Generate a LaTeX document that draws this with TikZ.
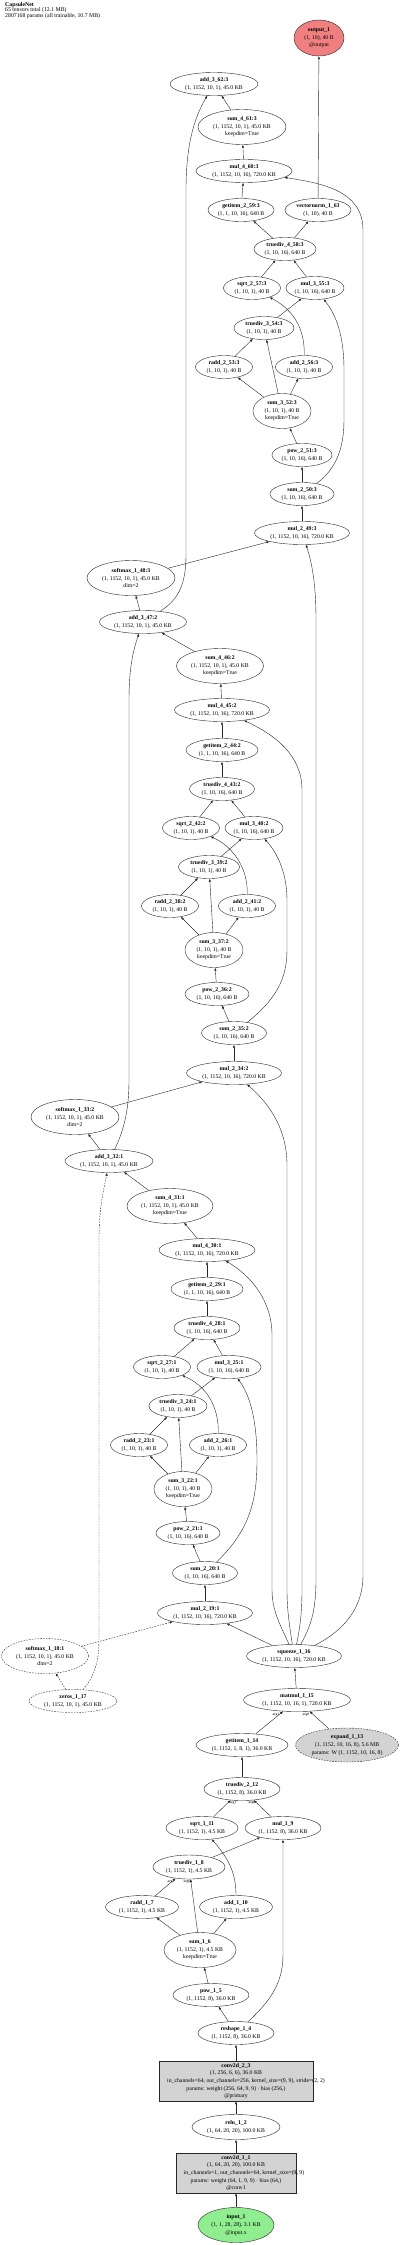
\documentclass[tikz,border=0pt]{standalone}
\usepackage{fontspec}
\setmainfont{Liberation Serif}
\usetikzlibrary{shapes.geometric,arrows.meta}
\definecolor{outc}{HTML}{F08080}
\definecolor{inc}{HTML}{90EE90}
\definecolor{parc}{HTML}{D3D3D3}
\newcommand\opl[2]{\textbf{#1}\\#2}
\begin{document}
\begin{tikzpicture}[x=1pt,y=-1pt,
 base/.style={font=\fontsize{5.75}{7.6}\selectfont, align=center, inner sep=0pt, draw=black!85, line width=0.4pt},
 op/.style={base, ellipse},
 boxn/.style={base, rectangle, fill=parc},
 sz/.style 2 args={minimum width=#1pt, minimum height=#2pt},
 dsh/.style={dash pattern=on 1.6pt off 1.2pt},
 e/.style={draw=black!85, line width=0.4pt, -{Latex[length=3pt,width=2.4pt]}},
 de/.style={e, dsh},
 lab/.style={font=\fontsize{3.8}{4}\selectfont, inner sep=0pt}]
\useasboundingbox (0,0) rectangle (400,2245);

\node[font=\fontsize{5.8}{5.4}\selectfont, align=left, anchor=north west, inner sep=0pt] (title) at (5,2)
 {\textbf{CapsuleNet}\\65 tensors total (12.1 MB)\\2807168 params (all trainable, 10.7 MB)};

% ---------- iteration 3 ----------
\node[op,sz={50}{36},fill=outc] (out) at (319,38) {\opl{output\_1}{(1, 10), 40 B\\@output}};
\node[op,sz={88}{23}] (a362) at (214,84) {\opl{add\_3\_62:3}{(1, 1152, 10, 1), 45.0 KB}};
\node[op,sz={88}{35}] (s461) at (242,127) {\opl{sum\_4\_61:3}{(1, 1152, 10, 1), 45.0 KB\\keepdim=True}};
\node[op,sz={96}{23}] (m460) at (244,171) {\opl{mul\_4\_60:3}{(1, 1152, 10, 16), 720.0 KB}};
\node[op,sz={66}{23}] (g259) at (241,210) {\opl{getitem\_2\_59:3}{(1, 1, 10, 16), 640 B}};
\node[op,sz={66}{23}] (vn) at (318,210) {\opl{vectornorm\_1\_63}{(1, 10), 40 B}};
\node[op,sz={62}{23}] (t458) at (285,249) {\opl{truediv\_4\_58:3}{(1, 10, 16), 640 B}};
\node[op,sz={57}{23}] (s257) at (252,288) {\opl{sqrt\_2\_57:3}{(1, 10, 1), 40 B}};
\node[op,sz={58}{23}] (m355) at (315,288) {\opl{mul\_3\_55:3}{(1, 10, 16), 640 B}};
\node[op,sz={60}{23}] (t354) at (264,328) {\opl{truediv\_3\_54:3}{(1, 10, 1), 40 B}};
\node[op,sz={57}{23}] (r253) at (224,367) {\opl{radd\_2\_53:3}{(1, 10, 1), 40 B}};
\node[op,sz={57}{23}] (a256) at (304,367) {\opl{add\_2\_56:3}{(1, 10, 1), 40 B}};
\node[op,sz={58}{35}] (s352) at (282,411) {\opl{sum\_3\_52:3}{(1, 10, 1), 40 B\\keepdim=True}};
\node[op,sz={60}{23}] (p251) at (302,455) {\opl{pow\_2\_51:3}{(1, 10, 16), 640 B}};
\node[op,sz={64}{23}] (s250) at (302,494) {\opl{sum\_2\_50:3}{(1, 10, 16), 640 B}};
\node[op,sz={95}{23}] (m249) at (302,533) {\opl{mul\_2\_49:3}{(1, 1152, 10, 16), 720.0 KB}};
\node[op,sz={88}{35}] (sm348) at (131,578) {\opl{softmax\_1\_48:3}{(1, 1152, 10, 1), 45.0 KB\\dim=2}};

% ---------- iteration 2 ----------
\node[op,sz={87}{23}] (a347) at (143,622) {\opl{add\_3\_47:2}{(1, 1152, 10, 1), 45.0 KB}};
\node[op,sz={87}{35}] (s446) at (220,666) {\opl{sum\_4\_46:2}{(1, 1152, 10, 1), 45.0 KB\\keepdim=True}};
\node[op,sz={95}{23}] (m445) at (222,710) {\opl{mul\_4\_45:2}{(1, 1152, 10, 16), 720.0 KB}};
\node[op,sz={72}{23}] (g244) at (222,750) {\opl{getitem\_2\_44:2}{(1, 1, 10, 16), 640 B}};
\node[op,sz={65}{23}] (t443) at (222,789) {\opl{truediv\_4\_43:2}{(1, 10, 16), 640 B}};
\node[op,sz={57}{23}] (s242) at (191,828) {\opl{sqrt\_2\_42:2}{(1, 10, 1), 40 B}};
\node[op,sz={58}{23}] (m340) at (254,828) {\opl{mul\_3\_40:2}{(1, 10, 16), 640 B}};
\node[op,sz={61}{23}] (t339) at (209,867) {\opl{truediv\_3\_39:2}{(1, 10, 1), 40 B}};
\node[op,sz={57}{23}] (r238) at (170,906) {\opl{radd\_2\_38:2}{(1, 10, 1), 40 B}};
\node[op,sz={57}{23}] (a241) at (247,906) {\opl{add\_2\_41:2}{(1, 10, 1), 40 B}};
\node[op,sz={58}{35}] (s337) at (214,950) {\opl{sum\_3\_37:2}{(1, 10, 1), 40 B\\keepdim=True}};
\node[op,sz={64}{23}] (p236) at (217,994) {\opl{pow\_2\_36:2}{(1, 10, 16), 640 B}};
\node[op,sz={65}{23}] (s235) at (234,1033) {\opl{sum\_2\_35:2}{(1, 10, 16), 640 B}};
\node[op,sz={95}{23}] (m234) at (234,1073) {\opl{mul\_2\_34:2}{(1, 1152, 10, 16), 720.0 KB}};
\node[op,sz={88}{35}] (sm333) at (75,1117) {\opl{softmax\_1\_33:2}{(1, 1152, 10, 1), 45.0 KB\\dim=2}};

% ---------- iteration 1 ----------
\node[op,sz={88}{23}] (a332) at (109,1161) {\opl{add\_3\_32:1}{(1, 1152, 10, 1), 45.0 KB}};
\node[op,sz={86}{35}] (s431) at (170,1206) {\opl{sum\_4\_31:1}{(1, 1152, 10, 1), 45.0 KB\\keepdim=True}};
\node[op,sz={96}{23}] (m430) at (207,1250) {\opl{mul\_4\_30:1}{(1, 1152, 10, 16), 720.0 KB}};
\node[op,sz={72}{23}] (g229) at (207,1289) {\opl{getitem\_2\_29:1}{(1, 1, 10, 16), 640 B}};
\node[op,sz={66}{23}] (t428) at (207,1328) {\opl{truediv\_4\_28:1}{(1, 10, 16), 640 B}};
\node[op,sz={57}{23}] (s227) at (162,1367) {\opl{sqrt\_2\_27:1}{(1, 10, 1), 40 B}};
\node[op,sz={64}{23}] (m325) at (229,1367) {\opl{mul\_3\_25:1}{(1, 10, 16), 640 B}};
\node[op,sz={58}{23}] (t324) at (178,1406) {\opl{truediv\_3\_24:1}{(1, 10, 1), 40 B}};
\node[op,sz={57}{23}] (r223) at (139,1445) {\opl{radd\_2\_23:1}{(1, 10, 1), 40 B}};
\node[op,sz={57}{23}] (a226) at (218,1445) {\opl{add\_2\_26:1}{(1, 10, 1), 40 B}};
\node[op,sz={58}{35}] (s322) at (183,1489) {\opl{sum\_3\_22:1}{(1, 10, 1), 40 B\\keepdim=True}};
\node[op,sz={64}{23}] (p221) at (188,1533) {\opl{pow\_2\_21:1}{(1, 10, 16), 640 B}};
\node[op,sz={65}{23}] (s220) at (205,1573) {\opl{sum\_2\_20:1}{(1, 10, 16), 640 B}};
\node[op,sz={95}{23}] (m219) at (205,1613) {\opl{mul\_2\_19:1}{(1, 1152, 10, 16), 720.0 KB}};
\node[op,sz={87}{35},dsh] (sm118) at (45,1656) {\opl{softmax\_1\_18:1}{(1, 1152, 10, 1), 45.0 KB\\dim=2}};

% ---------- primary / routing input ----------
\node[op,sz={95}{23}] (sq) at (294,1656) {\opl{squeeze\_1\_16}{(1, 1152, 10, 16), 720.0 KB}};
\node[op,sz={88}{23},dsh] (z117) at (73,1701) {\opl{zeros\_1\_17}{(1, 1152, 10, 1), 45.0 KB}};
\node[op,sz={107}{23}] (mm115) at (297,1700) {\opl{matmul\_1\_15}{(1, 1152, 10, 16, 1), 720.0 KB}};
\node[op,sz={92}{23}] (g114) at (242,1745) {\opl{getitem\_1\_14}{(1, 1152, 1, 8, 1), 36.0 KB}};
\node[op,sz={103}{34},dsh,fill=parc] (ex113) at (347,1745) {\opl{expand\_1\_13}{(1, 1152, 10, 16, 8), 5.6 MB\\params: W (1, 1152, 10, 16, 8)}};
\node[op,sz={76}{23}] (t212) at (242,1789) {\opl{truediv\_2\_12}{(1, 1152, 8), 36.0 KB}};
\node[op,sz={72}{23}] (s111) at (202,1828) {\opl{sqrt\_1\_11}{(1, 1152, 1), 4.5 KB}};
\node[op,sz={76}{23}] (m19) at (283,1828) {\opl{mul\_1\_9}{(1, 1152, 8), 36.0 KB}};
\node[op,sz={72}{24}] (t18) at (189,1867) {\opl{truediv\_1\_8}{(1, 1152, 1), 4.5 KB}};
\node[op,sz={73}{23}] (r17) at (142,1907) {\opl{radd\_1\_7}{(1, 1152, 1), 4.5 KB}};
\node[op,sz={73}{23}] (a110) at (236,1907) {\opl{add\_1\_10}{(1, 1152, 1), 4.5 KB}};
\node[op,sz={72}{35}] (s16) at (200,1950) {\opl{sum\_1\_6}{(1, 1152, 1), 4.5 KB\\keepdim=True}};
\node[op,sz={76}{23}] (p15) at (211,1995) {\opl{pow\_1\_5}{(1, 1152, 8), 36.0 KB}};
\node[op,sz={76}{23}] (r14) at (236,2033) {\opl{reshape\_1\_4}{(1, 1152, 8), 36.0 KB}};
\node[boxn,sz={154}{40}] (c23) at (236,2081) {};
\node[base,draw=none] (c23t) at (c23) {\opl{conv2d\_2\_3}{(1, 256, 6, 6), 36.0 KB\\\hspace*{20pt}in\_channels=64, out\_channels=256, kernel\_size=(9, 9), stride=(2, 2)\\params: weight (256, 64, 9, 9) · bias (256,)\\@primary}};
\node[op,sz={88}{25}] (r12) at (236,2127) {\opl{relu\_1\_2}{(1, 64, 20, 20), 100.0 KB}};
\node[boxn,sz={120}{40}] (c11) at (236,2173) {};
\node[base,draw=none] (c11t) at (c11) {\opl{conv2d\_1\_1}{(1, 64, 20, 20), 100.0 KB\\\hspace*{16pt}in\_channels=1, out\_channels=64, kernel\_size=(9, 9)\\params: weight (64, 1, 9, 9) · bias (64,)\\@conv1}};
\node[op,sz={76}{35},fill=inc] (in1) at (236,2225) {\opl{input\_1}{(1, 1, 28, 28), 3.1 KB\\@input.x}};

% edge labels
\node[lab] (l1) at (276,1715) {arg1};
\node[lab] (l2) at (306,1715) {arg0};
\node[lab] (l3) at (233,1803) {arg1};
\node[lab] (l4) at (252,1803) {arg0};
\node[lab] (l5) at (171,1882) {arg1};
\node[lab] (l6) at (187,1882) {arg0};

% ---------- edges: base ----------
\draw[e] (in1) -- (c11);
\draw[e] (c11) -- (r12);
\draw[e] (r12) -- (c23);
\draw[e] (c23) -- (r14);
\draw[e] (r14) -- (p15);
\draw[e] (p15) -- (s16);
\draw[e] (s16) -- (r17);
\draw[e] (s16) -- (a110);
\draw[e] (r17) -- (t18);
\draw[e] (s16) -- (t18);
\draw[e] (t18) -- (m19);
\draw[e] (r14) .. controls (268,2003) and (283,1985) .. (283,1955) -- (m19);
\draw[e] (a110) .. controls (236,1872) and (228,1858) .. (s111);
\draw[e] (s111) -- (t212);
\draw[e] (m19) -- (t212);
\draw[e] (t212) -- (g114);
\draw[e] (g114) -- (mm115);
\draw[e] (ex113) -- (mm115);
\draw[e] (mm115) -- (sq);

% ---------- edges: iteration 1 ----------
\draw[e] (sq) -- (m219);
\draw[de] (sm118) -- (m219);
\draw[de] (z117) -- (sm118);
\draw[de] (z117) .. controls (95,1676) and (99,1660) .. (99,1640) -- (99,1240) .. controls (99,1205) and (104,1190) .. (a332);
\draw[e] (m219) -- (s220);
\draw[e] (s220) -- (p221);
\draw[e] (p221) -- (s322);
\draw[e] (s322) -- (r223);
\draw[e] (s322) -- (a226);
\draw[e] (s322) -- (t324);
\draw[e] (r223) -- (t324);
\draw[e] (t324) -- (m325);
\draw[e] (s220) .. controls (250,1530) and (257,1500) .. (257,1460) .. controls (257,1420) and (250,1395) .. (m325);
\draw[e] (a226) .. controls (219,1405) and (205,1385) .. (s227);
\draw[e] (s227) -- (t428);
\draw[e] (m325) -- (t428);
\draw[e] (t428) -- (g229);
\draw[e] (g229) -- (m430);
\draw[e] (sq) .. controls (282,1628) and (272,1612) .. (272,1590) -- (272,1335) .. controls (272,1300) and (250,1275) .. (m430);
\draw[e] (m430) -- (s431);
\draw[e] (s431) -- (a332);
\draw[e] (a332) -- (sm333);
\draw[e] (sm333) -- (m234);
\draw[e] (sq) .. controls (290,1628) and (287,1612) .. (287,1590) -- (287,1165) .. controls (287,1125) and (265,1100) .. (m234);

% ---------- edges: iteration 2 ----------
\draw[e] (m234) -- (s235);
\draw[e] (s235) -- (p236);
\draw[e] (p236) -- (s337);
\draw[e] (s337) -- (r238);
\draw[e] (s337) -- (a241);
\draw[e] (s337) -- (t339);
\draw[e] (r238) -- (t339);
\draw[e] (t339) -- (m340);
\draw[e] (s235) .. controls (275,1000) and (287,980) .. (287,950) -- (287,900) .. controls (287,870) and (275,850) .. (m340);
\draw[e] (a241) .. controls (248,865) and (230,845) .. (s242);
\draw[e] (s242) -- (t443);
\draw[e] (m340) -- (t443);
\draw[e] (t443) -- (g244);
\draw[e] (g244) -- (m445);
\draw[e] (sq) .. controls (300,1628) and (302,1612) .. (302,1590) -- (302,790) .. controls (302,755) and (275,735) .. (m445);
\draw[e] (m445) -- (s446);
\draw[e] (s446) -- (a347);
\draw[e] (a332) .. controls (124,1130) and (129,1110) .. (129,1080) -- (129,700) .. controls (129,665) and (134,648) .. (a347);
\draw[e] (a347) -- (sm348);
\draw[e] (sm348) -- (m249);
\draw[e] (sq) .. controls (310,1628) and (316,1612) .. (316,1580) -- (316,620) .. controls (316,580) and (311,560) .. (m249);

% ---------- edges: iteration 3 ----------
\draw[e] (m249) -- (s250);
\draw[e] (s250) -- (p251);
\draw[e] (p251) -- (s352);
\draw[e] (s352) -- (r253);
\draw[e] (s352) -- (a256);
\draw[e] (s352) -- (t354);
\draw[e] (r253) -- (t354);
\draw[e] (t354) -- (m355);
\draw[e] (s250) .. controls (335,470) and (344,450) .. (344,420) -- (344,370) .. controls (344,335) and (336,315) .. (m355);
\draw[e] (a256) .. controls (305,325) and (290,308) .. (s257);
\draw[e] (s257) -- (t458);
\draw[e] (m355) -- (t458);
\draw[e] (t458) -- (g259);
\draw[e] (t458) -- (vn);
\draw[e] (vn) -- (out);
\draw[e] (g259) -- (m460);
\draw[e] (sq) .. controls (335,1635) and (363,1615) .. (363,1575) -- (363,230) .. controls (363,190) and (320,183) .. (m460);
\draw[e] (m460) -- (s461);
\draw[e] (s461) -- (a362);
\draw[e] (a347) .. controls (178,600) and (186,585) .. (186,555) -- (186,190) .. controls (186,140) and (196,115) .. (a362);
\end{tikzpicture}
\end{document}
